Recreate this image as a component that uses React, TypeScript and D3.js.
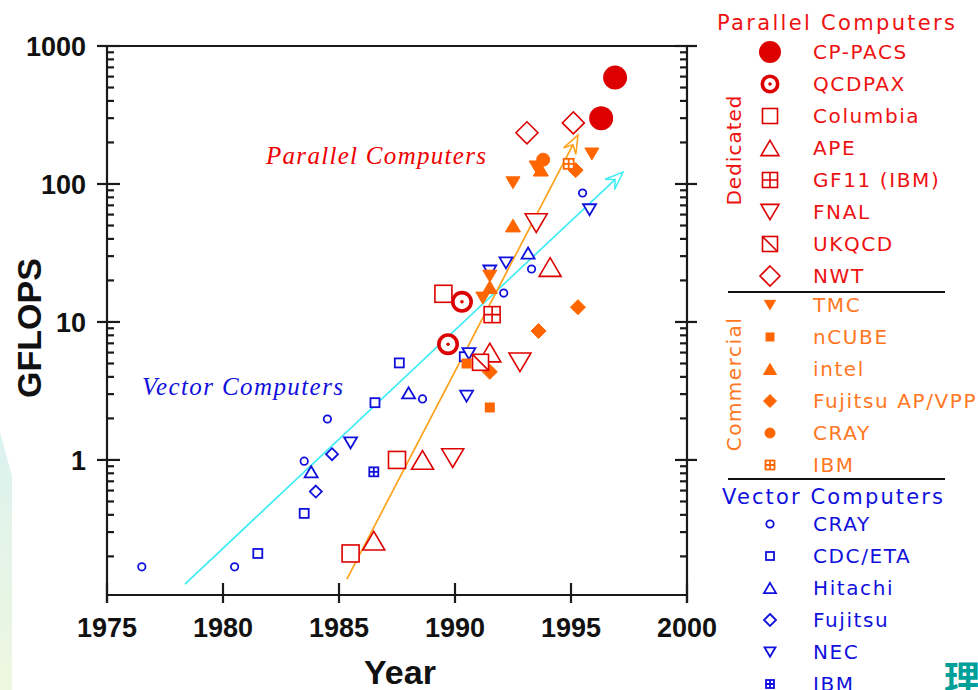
import React from "react";
import * as d3 from "d3";

const W = 978;
const H = 690;

// [year, GFLOPS]
const cpPacs = [[1996.3, 300], [1996.9, 590]];
const qcdpax = [[1989.7, 6.9], [1990.3, 14]];
const columbia = [[1985.5, 0.21], [1987.5, 1.0], [1989.5, 16]];
const ape = [[1986.5, 0.26], [1988.6, 1.0], [1991.5, 6.0], [1994.1, 25]];
const gf11 = [[1991.6, 11.3]];
const fnal = [[1989.9, 1.03], [1992.8, 5.1], [1993.5, 52]];
const ukqcd = [[1991.1, 5.1]];
const nwt = [[1993.1, 235], [1995.1, 277]];

const tmc = [[1991.2, 14.9], [1991.5, 21.5], [1992.5, 102], [1993.5, 133], [1995.9, 165]];
const ncube = [[1990.5, 5.0], [1991.5, 2.4]];
const intel = [[1991.5, 17.9], [1992.5, 50], [1993.7, 127]];
const fujitsuAP = [[1991.5, 4.35], [1993.6, 8.6], [1995.2, 126], [1995.3, 12.8]];
const crayCom = [[1993.8, 150]];
const ibmCom = [[1994.9, 140]];

const cray = [[1976.5, 0.168], [1980.5, 0.168], [1983.5, 0.98], [1984.5, 1.98], [1988.6, 2.77], [1992.1, 16.2], [1993.3, 24.2], [1995.5, 86]];
const cdcEta = [[1981.5, 0.21], [1983.5, 0.41], [1986.55, 2.6], [1987.6, 5.05], [1990.4, 5.6]];
const hitachi = [[1983.8, 0.82], [1988.0, 3.06], [1993.15, 31.6]];
const fujitsu = [[1984.0, 0.59], [1984.7, 1.1]];
const nec = [[1985.5, 1.33], [1990.5, 2.9], [1990.6, 5.9], [1991.5, 23.4], [1992.2, 26.8], [1995.8, 65]];
const ibm = [[1986.5, 0.82]];

const vectorTrend = [[1978.36, 0.126], [1997.24, 122]];
const parallelTrend = [[1985.34, 0.137], [1995.3, 226]];

const yearTicks = [1975, 1980, 1985, 1990, 1995, 2000];

const RED = "#dd0000";
const ORANGE = "#ff6600";
const BLUE = "#1010dd";

const dedicated = [
  { name: "CP-PACS", data: cpPacs, shape: "disc", s: 24, ls: 22 },
  { name: "QCDPAX", data: qcdpax, shape: "ring", s: 22, ls: 19 },
  { name: "Columbia", data: columbia, shape: "square", s: 17, ls: 15 },
  { name: "APE", data: ape, shape: "tri", s: 22, ls: 18 },
  { name: "GF11 (IBM)", data: gf11, shape: "grid", s: 16, ls: 15 },
  { name: "FNAL", data: fnal, shape: "itri", s: 22, ls: 18 },
  { name: "UKQCD", data: ukqcd, shape: "slash", s: 16, ls: 15 },
  { name: "NWT", data: nwt, shape: "diamond", s: 22, ls: 20 },
];
const commercial = [
  { name: "TMC", data: tmc, shape: "fitri", s: 14, ls: 11 },
  { name: "nCUBE", data: ncube, shape: "fsquare", s: 10, ls: 9 },
  { name: "intel", data: intel, shape: "ftri", s: 15, ls: 13 },
  { name: "Fujitsu AP/VPP", data: fujitsuAP, shape: "fdiamond", s: 15, ls: 13 },
  { name: "CRAY", data: crayCom, shape: "fdisc", s: 13, ls: 10 },
  { name: "IBM", data: ibmCom, shape: "grid", s: 10, ls: 9 },
];
const vector = [
  { name: "CRAY", data: cray, shape: "circle", s: 9, ls: 9 },
  { name: "CDC/ETA", data: cdcEta, shape: "square", s: 9, ls: 8 },
  { name: "Hitachi", data: hitachi, shape: "tri", s: 13, ls: 12 },
  { name: "Fujitsu", data: fujitsu, shape: "diamond", s: 12, ls: 12 },
  { name: "NEC", data: nec, shape: "itri", s: 13, ls: 11 },
  { name: "IBM", data: ibm, shape: "grid", s: 9, ls: 8 },
];

function Marker({ shape, x, y, s, color }: any) {
  const h = s / 2;
  const th = s * 0.85;
  const sw = s > 14 ? 1.6 : 1.8;
  const open = { fill: "white", stroke: color, strokeWidth: sw };
  const solid = { fill: color, stroke: color, strokeWidth: 1 };
  switch (shape) {
    case "disc":
      return <circle cx={x} cy={y} r={h} fill={color} />;
    case "fdisc":
      return <circle cx={x} cy={y} r={h} {...solid} />;
    case "ring":
      return (
        <g>
          <circle cx={x} cy={y} r={h - 1.8} fill="white" stroke={color} strokeWidth={3.6} />
          <circle cx={x} cy={y} r={1.8} fill={color} />
        </g>
      );
    case "circle":
      return <circle cx={x} cy={y} r={h - 0.8} {...open} />;
    case "square":
      return <rect x={x - h} y={y - h} width={s} height={s} {...open} />;
    case "fsquare":
      return <rect x={x - h} y={y - h} width={s} height={s} fill={color} />;
    case "grid":
      return (
        <g>
          <rect x={x - h} y={y - h} width={s} height={s} {...open} />
          <path d={`M${x},${y - h}V${y + h}M${x - h},${y}H${x + h}`} stroke={color} strokeWidth={sw} />
        </g>
      );
    case "slash":
      return (
        <g>
          <rect x={x - h} y={y - h} width={s} height={s} {...open} />
          <path d={`M${x - h},${y - h}L${x + h},${y + h}`} stroke={color} strokeWidth={sw} />
        </g>
      );
    case "tri":
    case "ftri":
      return (
        <path
          d={`M${x},${y - th / 2}L${x + h},${y + th / 2}L${x - h},${y + th / 2}Z`}
          {...(shape === "tri" ? open : solid)}
        />
      );
    case "itri":
    case "fitri":
      return (
        <path
          d={`M${x},${y + th / 2}L${x + h},${y - th / 2}L${x - h},${y - th / 2}Z`}
          {...(shape === "itri" ? open : solid)}
        />
      );
    case "diamond":
    case "fdiamond":
      return (
        <path
          d={`M${x},${y - h}L${x + h},${y}L${x},${y + h}L${x - h},${y}Z`}
          {...(shape === "diamond" ? open : solid)}
        />
      );
    default:
      return null;
  }
}

function Arrow({ pts, color }: any) {
  const [a, b] = pts;
  const ang = Math.atan2(b[1] - a[1], b[0] - a[0]);
  const L = 18;
  const wd = 7;
  const ux = Math.cos(ang);
  const uy = Math.sin(ang);
  const px = -uy;
  const py = ux;
  const tip = b;
  const back = [b[0] - ux * L, b[1] - uy * L];
  const notch = [b[0] - ux * L * 0.6, b[1] - uy * L * 0.6];
  const d = `M${tip[0]},${tip[1]}L${back[0] + px * wd},${back[1] + py * wd}L${notch[0]},${notch[1]}L${back[0] - px * wd},${back[1] - py * wd}Z`;
  return <path d={d} fill="white" stroke={color} strokeWidth={1.5} />;
}

export default function App() {
  const left = 107;
  const right = 687;
  const top = 46;
  const bottom = 595;

  const x = d3.scaleLinear().domain([1975, 2000]).range([left, right]);
  const y = d3.scaleLog().domain([0.105, 1000]).range([bottom, top]);

  const yt = y.ticks().filter((t) => t >= 0.105 && t <= 1000);
  const isMajor = (t: number) => Math.abs(Math.log10(t) - Math.round(Math.log10(t))) < 1e-9;

  const line = d3
    .line<number[]>()
    .x((d) => x(d[0]))
    .y((d) => y(d[1]));

  const vPts = vectorTrend.map((d) => [x(d[0]), y(d[1])]);
  const pPts = parallelTrend.map((d) => [x(d[0]), y(d[1])]);

  const axisColor = "#1a1a1a";
  const tickFont = "'Liberation Sans', Arial, sans-serif";
  const legFont = "'DejaVu Sans', sans-serif";

  const legendRows = (items: any[], y0: number, color: string, textColor: string) =>
    items.map((it, i) => {
      const cy = y0 + i * 32;
      return (
        <g key={it.name + i}>
          <Marker shape={it.shape} x={770} y={cy} s={it.ls} color={color} />
          <text x={813} y={cy + 7} fill={textColor} fontSize={20} fontFamily={legFont} letterSpacing={1.6}>
            {it.name}
          </text>
        </g>
      );
    });

  return (
    <svg width={W} height={H} style={{ position: "absolute", left: 0, top: 0, background: "white" }}>
      <defs>
        <linearGradient id="bgGrad" x1="0" y1="0" x2="0" y2="1">
          <stop offset="0%" stopColor="#dcf2ef" />
          <stop offset="100%" stopColor="#eef7e0" />
        </linearGradient>
      </defs>
      <polygon points="0,432 12,476 12,690 0,690" fill="url(#bgGrad)" />

      {/* frame */}
      <g stroke={axisColor} strokeWidth={2.2} fill="none">
        <line x1={97} x2={697} y1={top} y2={top} />
        <line x1={left} x2={right} y1={bottom} y2={bottom} />
        <line x1={left} x2={left} y1={top} y2={603} />
        <line x1={right} x2={right} y1={top} y2={603} />
        {yt.map((t) =>
          isMajor(t) ? (
            <g key={"m" + t}>
              <line x1={97} x2={120} y1={y(t)} y2={y(t)} />
              <line x1={675} x2={697} y1={y(t)} y2={y(t)} />
            </g>
          ) : (
            <g key={"n" + t}>
              <line x1={left} x2={left + 7} y1={y(t)} y2={y(t)} />
              <line x1={right - 7} x2={right} y1={y(t)} y2={y(t)} />
            </g>
          )
        )}
        {yearTicks.map((t) => (
          <line key={t} x1={x(t)} x2={x(t)} y1={583} y2={603} />
        ))}
      </g>

      {/* tick labels */}
      <g fontFamily={tickFont} fontWeight="bold" fontSize={27} fill="#111">
        {yt.filter(isMajor).map((t) => (
          <text key={t} x={86} y={y(t) + 10} textAnchor="end">
            {d3.format("d")(t)}
          </text>
        ))}
        {yearTicks.map((t) => (
          <text key={t} x={x(t)} y={637} textAnchor="middle">
            {t}
          </text>
        ))}
      </g>
      <text
        transform="translate(41,328) rotate(-90)"
        textAnchor="middle"
        fontFamily={tickFont}
        fontWeight="bold"
        fontSize={34}
        fill="#111"
      >
        GFLOPS
      </text>
      <text x={400} y={684} textAnchor="middle" fontFamily={tickFont} fontWeight="bold" fontSize={34} fill="#111">
        Year
      </text>

      {/* trend lines */}
      <path d={line(vectorTrend as any) || ""} stroke="#3eecf4" strokeWidth={1.7} fill="none" />
      <Arrow pts={vPts} color="#3eecf4" />
      <path d={line(parallelTrend as any) || ""} stroke="#ffa21a" strokeWidth={1.7} fill="none" />
      <Arrow pts={pPts} color="#ffa21a" />

      {/* data */}
      {vector.map((sr) =>
        sr.data.map((d, i) => (
          <Marker key={sr.name + "v" + i} shape={sr.shape} x={x(d[0])} y={y(d[1])} s={sr.s} color={BLUE} />
        ))
      )}
      {commercial.map((sr) =>
        sr.data.map((d, i) => (
          <Marker key={sr.name + "c" + i} shape={sr.shape} x={x(d[0])} y={y(d[1])} s={sr.s} color={ORANGE} />
        ))
      )}
      {dedicated.map((sr) =>
        sr.data.map((d, i) => (
          <Marker key={sr.name + "d" + i} shape={sr.shape} x={x(d[0])} y={y(d[1])} s={sr.s} color={RED} />
        ))
      )}

      {/* annotations */}
      <text x={266} y={164} fill="#ee0000" fontFamily="'Liberation Serif', serif" fontStyle="italic" fontSize={25} textLength={220} lengthAdjust="spacing">
        Parallel Computers
      </text>
      <text x={142} y={395} fill={BLUE} fontFamily="'Liberation Serif', serif" fontStyle="italic" fontSize={25} textLength={201} lengthAdjust="spacing">
        Vector Computers
      </text>

      {/* legend */}
      <text x={717} y={30} fill="#ee1111" fontSize={21} fontFamily={legFont} textLength={238} lengthAdjust="spacing">
        Parallel Computers
      </text>
      <text transform="translate(741,150) rotate(-90)" textAnchor="middle" fill="#ee1111" fontSize={20} fontFamily={legFont} letterSpacing={1}>
        Dedicated
      </text>
      {legendRows(dedicated, 52, RED, "#ee1111")}
      <line x1={728} x2={945} y1={292} y2={292} stroke="#111" strokeWidth={2} />
      <text transform="translate(741,384) rotate(-90)" textAnchor="middle" fill="#ff7722" fontSize={20} fontFamily={legFont} letterSpacing={1.5}>
        Commercial
      </text>
      {legendRows(commercial, 305, ORANGE, "#ff7722")}
      <line x1={728} x2={945} y1={479} y2={479} stroke="#111" strokeWidth={2} />
      <text x={722} y={504} fill={BLUE} fontSize={21} fontFamily={legFont} textLength={221} lengthAdjust="spacing">
        Vector Computers
      </text>
      {legendRows(vector, 524, BLUE, BLUE)}

      <text x={944} y={692} fill="#00a09a" fontSize={36} fontWeight="bold" fontFamily="'Noto Sans CJK JP', sans-serif">
        理
      </text>
    </svg>
  );
}
